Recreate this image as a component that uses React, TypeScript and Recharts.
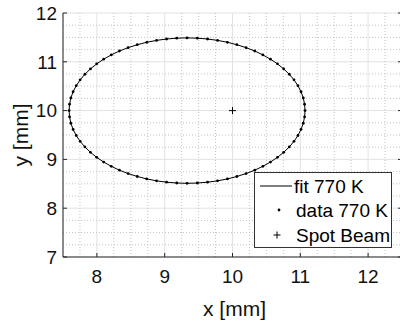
import React from 'react';
import {
  ScatterChart,
  Scatter,
  XAxis,
  YAxis,
  CartesianGrid,
  ReferenceLine,
  Legend,
  Label,
} from 'recharts';

// Measured beam-spot outline at 770 K (mm), listed in order around the contour
const dataX = [
  11.07, 11.063, 11.044, 11.011, 10.965, 10.907, 10.837, 10.755, 10.663, 10.56, 10.448, 10.328,
  10.2, 10.065, 9.925, 9.78, 9.632, 9.482, 9.33, 9.178, 9.028, 8.88, 8.735, 8.595,
  8.46, 8.332, 8.212, 8.1, 7.997, 7.905, 7.823, 7.753, 7.695, 7.649, 7.616, 7.597,
  7.59, 7.597, 7.616, 7.649, 7.695, 7.753, 7.823, 7.905, 7.997, 8.1, 8.212, 8.332,
  8.46, 8.595, 8.735, 8.88, 9.028, 9.178, 9.33, 9.482, 9.632, 9.78, 9.925, 10.065,
  10.2, 10.328, 10.448, 10.56, 10.663, 10.755, 10.837, 10.907, 10.965, 11.011, 11.044, 11.063,
];
const dataY = [
  10.0, 10.13, 10.259, 10.386, 10.51, 10.63, 10.745, 10.855, 10.958, 11.054, 11.141, 11.221,
  11.29, 11.35, 11.4, 11.439, 11.467, 11.484, 11.49, 11.484, 11.467, 11.439, 11.4, 11.35,
  11.29, 11.221, 11.141, 11.054, 10.958, 10.855, 10.745, 10.63, 10.51, 10.386, 10.259, 10.13,
  10.0, 9.87, 9.741, 9.614, 9.49, 9.37, 9.255, 9.145, 9.042, 8.946, 8.859, 8.779,
  8.71, 8.65, 8.6, 8.561, 8.533, 8.516, 8.51, 8.516, 8.533, 8.561, 8.6, 8.65,
  8.71, 8.779, 8.859, 8.946, 9.042, 9.145, 9.255, 9.37, 9.49, 9.614, 9.741, 9.87,
];
const spotBeamX = [10];
const spotBeamY = [10];

const xTicks = [8, 9, 10, 11, 12];
const yTicks = [7, 8, 9, 10, 11, 12];
const xMinor = [7.75, 8.25, 8.5, 8.75, 9.25, 9.5, 9.75, 10.25, 10.5, 10.75, 11.25, 11.5, 11.75, 12.25];
const yMinor = [7.25, 7.5, 7.75, 8.25, 8.5, 8.75, 9.25, 9.5, 9.75, 10.25, 10.5, 10.75, 11.25, 11.5, 11.75];
const legendLabels = ['fit 770 K', 'data 770 K', 'Spot Beam'];

const points = dataX.map((x, i) => ({ x, y: dataY[i] }));
const fitPoints = [...points, points[0]];
const spotPoints = spotBeamX.map((x, i) => ({ x, y: spotBeamY[i] }));

const FONT = '"Liberation Sans", Arial, Helvetica, sans-serif';
const INK = '#262626';
const TICK_LEN = 4;
const X_TICK_GAP = 13;
const Y_TICK_GAP = 6;

function BottomTick(props: any) {
  const { x, y, payload } = props;
  const axisY = y - X_TICK_GAP;
  return (
    <g>
      <line x1={x} x2={x} y1={axisY} y2={axisY - TICK_LEN} stroke={INK} strokeWidth={1} />
      <text x={x} y={y} dy="0.71em" textAnchor="middle" fontSize={19} fill="#111" fontFamily={FONT}>
        {payload.value}
      </text>
    </g>
  );
}

function LeftTick(props: any) {
  const { x, y, payload } = props;
  const axisX = x + Y_TICK_GAP;
  return (
    <g>
      <line x1={axisX} x2={axisX + TICK_LEN} y1={y} y2={y} stroke={INK} strokeWidth={1} />
      <text x={x} y={y} dy="0.355em" textAnchor="end" fontSize={19} fill="#111" fontFamily={FONT}>
        {payload.value}
      </text>
    </g>
  );
}

function TopTick(props: any) {
  const { x, y } = props;
  return <line x1={x} x2={x} y1={y} y2={y + TICK_LEN} stroke={INK} strokeWidth={1} />;
}

function RightTick(props: any) {
  const { x, y } = props;
  return <line x1={x} x2={x - TICK_LEN} y1={y} y2={y} stroke={INK} strokeWidth={1} />;
}

function DataDot(props: any) {
  const { cx, cy } = props;
  return <circle cx={cx} cy={cy} r={1.4} fill="#000" />;
}

function NoMarker() {
  return <g />;
}

function PlusMarker(props: any) {
  const { cx, cy } = props;
  const h = 3.5;
  return (
    <path
      d={`M${cx - h},${cy}H${cx + h}M${cx},${cy - h}V${cy + h}`}
      stroke="#000"
      strokeWidth={1}
      fill="none"
    />
  );
}

function LegendBox() {
  const rowY = [14, 38, 63];
  return (
    <svg width={138} height={76} style={{ display: 'block' }}>
      <rect x={0.5} y={0.5} width={137} height={75} fill="#fff" stroke="#333" strokeWidth={1} />
      <line x1={6} x2={38} y1={rowY[0]} y2={rowY[0]} stroke="#000" strokeWidth={1} />
      <circle cx={25} cy={rowY[1]} r={1.4} fill="#000" />
      <path d={`M${19.5},${rowY[2]}H${26.5}M${23},${rowY[2] - 3.5}V${rowY[2] + 3.5}`} stroke="#000" strokeWidth={1} />
      {legendLabels.map((t, i) => (
        <text key={t} x={i === 0 ? 40 : 42} y={rowY[i]} dy="0.355em" fontSize={19} fill="#000" fontFamily={FONT}>
          {t}
        </text>
      ))}
    </svg>
  );
}

export default function App() {
  return (
    <div
      style={{
        position: 'absolute',
        left: 0,
        top: 0,
        width: 400,
        height: 322,
        overflow: 'hidden',
        background: '#fff',
        fontFamily: FONT,
      }}
    >
      <ScatterChart width={410} height={322} margin={{ top: 13, right: 0, bottom: 0, left: 0 }}>
        <CartesianGrid stroke="#e2e2e2" strokeWidth={1} />
        {xMinor.map((v) => (
          <ReferenceLine key={`vx${v}`} x={v} stroke="#c4c4c4" strokeDasharray="1 2" />
        ))}
        {yMinor.map((v) => (
          <ReferenceLine key={`hy${v}`} y={v} stroke="#c4c4c4" strokeDasharray="1 2" />
        ))}
        <XAxis
          type="number"
          dataKey="x"
          domain={[7.5, 12.5]}
          ticks={xTicks}
          allowDataOverflow
          height={65}
          stroke={INK}
          tickLine={false}
          tickSize={0}
          tickMargin={X_TICK_GAP}
          tick={<BottomTick />}
        >
          <Label
            content={(p: any) => {
              const vb = p.viewBox;
              return (
                <text x={vb.x + vb.width / 2 + 2} y={vb.y + 59} textAnchor="middle" fontSize={21} fill="#111" fontFamily={FONT}>
                  x [mm]
                </text>
              );
            }}
          />
        </XAxis>
        <XAxis
          xAxisId="top"
          orientation="top"
          type="number"
          dataKey="x"
          domain={[7.5, 12.5]}
          ticks={xTicks}
          allowDataOverflow
          height={0}
          stroke={INK}
          tickLine={false}
          tickSize={0}
          tickMargin={0}
          tick={<TopTick />}
        />
        <YAxis
          type="number"
          dataKey="y"
          domain={[7, 12]}
          ticks={yTicks}
          allowDataOverflow
          width={63}
          stroke={INK}
          tickLine={false}
          tickSize={0}
          tickMargin={Y_TICK_GAP}
          tick={<LeftTick />}
        >
          <Label
            content={(p: any) => {
              const vb = p.viewBox;
              const cx = vb.x + 28;
              const cy = vb.y + vb.height / 2;
              return (
                <text
                  x={cx}
                  y={cy}
                  textAnchor="middle"
                  fontSize={21}
                  fill="#111"
                  fontFamily={FONT}
                  transform={`rotate(-90 ${cx} ${cy})`}
                >
                  y [mm]
                </text>
              );
            }}
          />
        </YAxis>
        <YAxis
          yAxisId="right"
          orientation="right"
          type="number"
          dataKey="y"
          domain={[7, 12]}
          ticks={yTicks}
          allowDataOverflow
          width={8}
          stroke={INK}
          tickLine={false}
          tickSize={0}
          tickMargin={0}
          tick={<RightTick />}
        />
        <Scatter
          name={legendLabels[0]}
          data={fitPoints}
          fill="#000"
          line={{ stroke: '#000', strokeWidth: 1 }}
          shape={<NoMarker />}
          isAnimationActive={false}
        />
        <Scatter
          name={legendLabels[1]}
          data={points}
          fill="#000"
          shape={<DataDot />}
          isAnimationActive={false}
        />
        <Scatter
          name={legendLabels[2]}
          data={spotPoints}
          fill="#000"
          shape={<PlusMarker />}
          isAnimationActive={false}
        />
        <Legend
          layout="vertical"
          align="center"
          verticalAlign="middle"
          wrapperStyle={{ left: 254, top: 172, width: 138, height: 76 }}
          content={<LegendBox />}
        />
      </ScatterChart>
    </div>
  );
}
